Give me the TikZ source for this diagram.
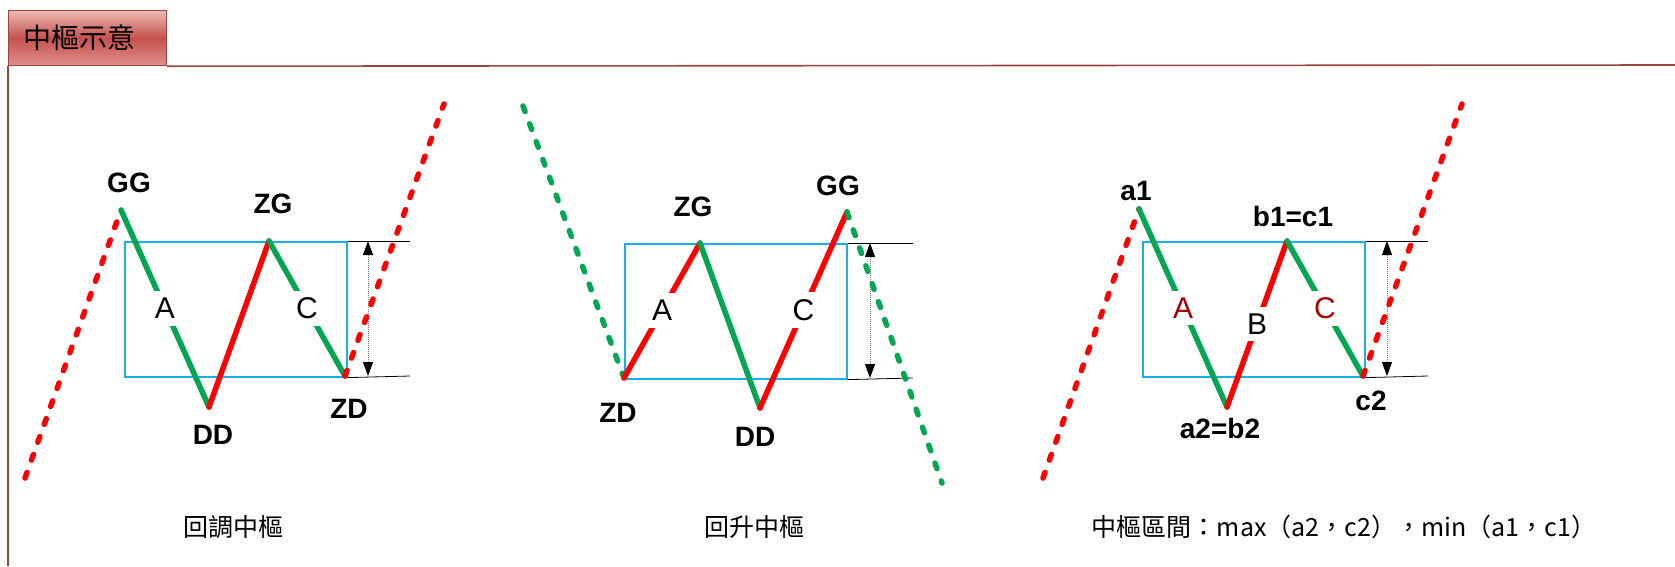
\documentclass[tikz,border=0pt]{standalone}
\usepackage{fontspec}
\setmainfont{Liberation Sans}
\newfontfamily\cjk{Noto Sans CJK TC}
\usetikzlibrary{positioning,arrows.meta}
\definecolor{verde}{HTML}{00A651}
\definecolor{rojo}{HTML}{FF0000}
\definecolor{granate}{HTML}{A80000}
\definecolor{cian}{HTML}{1AAFEA}
\definecolor{marco}{HTML}{9A4541}
\definecolor{tabsup}{HTML}{EBBAB6}
\definecolor{tabmed}{HTML}{C6514C}
\definecolor{tabinf}{HTML}{E0908B}

\begin{document}
\begin{tikzpicture}[x=1pt,y=-1pt,
      upln/.style={rojo,line width=5.5pt,line cap=round},
      dnln/.style={verde,line width=5.5pt,line cap=round},
      updot/.style={upln,dash pattern=on 6pt off 13pt},
      dndot/.style={dnln,dash pattern=on 6pt off 13pt},
      zs/.style={draw=cian,line width=1.6pt,inner sep=0pt,anchor=north west},
      tick/.style={black,line width=0.8pt},
      dim/.style={{Triangle[length=14pt,width=10pt,black]}-{Triangle[length=14pt,width=10pt,black]},
                  gray,densely dotted,line width=1pt},
      pt/.style={font=\fontsize{28}{28}\selectfont\bfseries,inner sep=0pt},
      seg/.style={fill=white,text=black,inner sep=7pt,font=\fontsize{30}{30}\selectfont},
      pie/.style={font=\cjk\fontsize{25}{25}\selectfont,inner sep=0pt},
      frm/.style={marco,line width=1.6pt},
      tab/.style={draw=marco,line width=1.2pt,top color=tabsup,bottom color=tabinf,
                  middle color=tabmed,anchor=north west,minimum height=55pt,
                  text width=128pt,inner xsep=15pt,align=left,
                  font=\cjk\fontsize{28}{28}\selectfont}]
    \useasboundingbox (0,0) rectangle (1675,566);
    % titulo y marco
    \node[tab] (ttl) at (8,10) {中樞示意};
    \coordinate (fr) at (1675,65);
    \coordinate (fl) at (8,566);
    \draw[frm] (ttl.south east) -- (fr);
    \draw[frm] (ttl.south west) -- (fl);

    % panel 1: 回調中樞
    \coordinate (s1) at (25,478);
    \coordinate (gg1) at (121,210);
    \coordinate (dd1) at (209,407);
    \coordinate (zg1) at (269,241);
    \coordinate (zd1) at (345,376);
    \coordinate (e1) at (444,104);
    \node[zs,minimum width=222pt,minimum height=135pt] (box1) at (124,241) {};
    \coordinate (t1a) at (410,241);
    \coordinate (t1b) at (410,376);
    \coordinate (d1a) at (368,241);
    \coordinate (d1b) at (368,376);
    \draw[tick] (box1.north east) -- (t1a);
    \draw[tick] (box1.south east) -- (t1b);
    \draw[dim] (d1a) -- (d1b);
    \draw[updot] (s1) -- (gg1);
    \draw[dnln] (gg1) -- node[seg] {A} (dd1);
    \draw[upln] (dd1) -- (zg1);
    \draw[dnln] (zg1) -- node[seg] {C} (zd1);
    \draw[updot] (zd1) -- (e1);
    \node[pt] (lgg1) at (129,183) {GG};
    \node[pt] (lzg1) at (273,204) {ZG};
    \node[pt] (ldd1) at (213,435) {DD};
    \node[pt] (lzd1) at (349,409) {ZD};
    \node[pie] (pie1) at (233,527) {回調中樞};

    % panel 2: 回升中樞
    \coordinate (s2) at (523,106);
    \coordinate (zd2) at (624,378);
    \coordinate (zg2) at (700,243);
    \coordinate (dd2) at (760,408);
    \coordinate (gg2) at (847,212);
    \coordinate (e2) at (942,483);
    \node[zs,minimum width=222pt,minimum height=135pt] (box2) at (624,243) {};
    \coordinate (t2a) at (913,243);
    \coordinate (t2b) at (913,378);
    \coordinate (d2a) at (870,243);
    \coordinate (d2b) at (870,378);
    \draw[tick] (box2.north east) -- (t2a);
    \draw[tick] (box2.south east) -- (t2b);
    \draw[dim] (d2a) -- (d2b);
    \draw[dndot] (s2) -- (zd2);
    \draw[upln] (zd2) -- node[seg] {A} (zg2);
    \draw[dnln] (zg2) -- (dd2);
    \draw[upln] (dd2) -- node[seg] {C} (gg2);
    \draw[dndot] (gg2) -- (e2);
    \node[pt] (lzg2) at (693,207) {ZG};
    \node[pt] (lgg2) at (838,186) {GG};
    \node[pt] (lzd2) at (618,413) {ZD};
    \node[pt] (ldd2) at (755,437) {DD};
    \node[pie] (pie2) at (754,527) {回升中樞};

    % panel 3: 中樞區間
    \coordinate (s3) at (1043,478);
    \coordinate (a1) at (1139,209);
    \coordinate (a2) at (1227,407);
    \coordinate (b1) at (1287,241);
    \coordinate (c2) at (1363,376);
    \coordinate (e3) at (1462,104);
    \node[zs,minimum width=222pt,minimum height=135pt] (box3) at (1142,241) {};
    \coordinate (t3a) at (1428,241);
    \coordinate (t3b) at (1428,376);
    \coordinate (d3a) at (1387,241);
    \coordinate (d3b) at (1387,376);
    \draw[tick] (box3.north east) -- (t3a);
    \draw[tick] (box3.south east) -- (t3b);
    \draw[dim] (d3a) -- (d3b);
    \draw[updot] (s3) -- (a1);
    \draw[dnln] (a1) -- node[seg,text=granate] {A} (a2);
    \draw[upln] (a2) -- node[seg] {B} (b1);
    \draw[dnln] (b1) -- node[seg,text=granate] {C} (c2);
    \draw[updot] (c2) -- (e3);
    \node[pt] (la1) at (1136,191) {a1};
    \node[pt] (lb1) at (1293,216) {b1=c1};
    \node[pt] (la2) at (1220,428) {a2=b2};
    \node[pt] (lc2) at (1371,401) {c2};
    \node[pie] (pie3) at (1344,527) {中樞區間：max（a2，c2），min（a1，c1）};
  \end{tikzpicture}
\end{document}
